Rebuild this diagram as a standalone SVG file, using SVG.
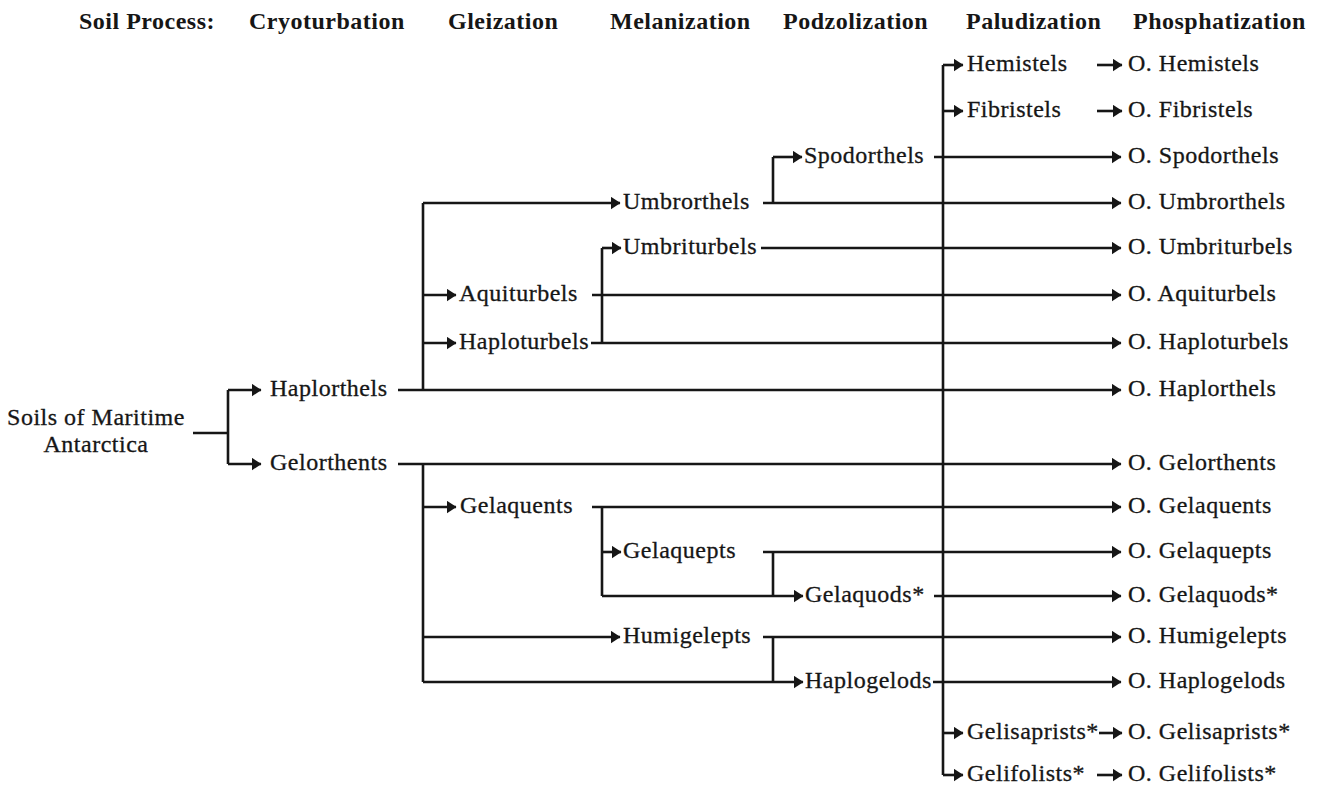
<svg xmlns="http://www.w3.org/2000/svg" width="1321" height="787" viewBox="0 0 1321 787">
  <defs>
    <marker id="arrow" markerUnits="userSpaceOnUse" markerWidth="11" markerHeight="13" refX="9.5" refY="6.5" orient="auto">
      <path d="M0,0 L10,6.5 L0,13 z" fill="#161616"/>
    </marker>
    <style>
      .hdr { font-family: "Liberation Serif", "DejaVu Serif", serif; font-size: 24px; font-weight: bold; letter-spacing: 0.5px; fill: #161616; }
      .lbl { font-family: "Liberation Serif", "DejaVu Serif", serif; font-size: 24px; letter-spacing: 0.5px; fill: #161616; stroke: #161616; stroke-width: 0.3px; }
      .ln { fill: none; stroke: #161616; stroke-width: 2.6; }
      .ar { fill: none; stroke: #161616; stroke-width: 2.6; marker-end: url(#arrow); }
    </style>
  </defs>
  <rect width="1321" height="787" fill="#ffffff"/>

  <!-- process columns -->
  <g id="header">
    <text class="hdr" x="79" y="29">Soil Process:</text>
    <text class="hdr" x="249" y="29">Cryoturbation</text>
    <text class="hdr" x="448" y="29">Gleization</text>
    <text class="hdr" x="610" y="29">Melanization</text>
    <text class="hdr" x="783" y="29">Podzolization</text>
    <text class="hdr" x="966" y="29">Paludization</text>
    <text class="hdr" x="1133" y="29">Phosphatization</text>
  </g>

  <!-- connectors -->
  <g id="connectors">
    <!-- root split -->
    <path class="ln" d="M193,433 H228 M228,390 V464"/>
    <path class="ar" d="M228,390 H261"/>
    <path class="ar" d="M228,464 H261"/>

    <!-- Haplorthels branch -->
    <path class="ar" d="M398,390 H1121"/>
    <path class="ln" d="M423,203 V390"/>
    <path class="ar" d="M423,203 H620"/>
    <path class="ar" d="M423,295 H456"/>
    <path class="ar" d="M423,343 H456"/>

    <path class="ar" d="M592,295 H1121"/>
    <path class="ar" d="M591,343 H1121"/>
    <path class="ln" d="M602,248 V343"/>
    <path class="ar" d="M602,248 H621"/>
    <path class="ar" d="M761,248 H1121"/>

    <path class="ar" d="M763,203 H1121"/>
    <path class="ln" d="M773,157 V203"/>
    <path class="ar" d="M773,157 H802"/>
    <path class="ar" d="M934,157 H1121"/>

    <!-- paludization trunk -->
    <path class="ln" d="M943,65 V775"/>
    <path class="ar" d="M943,65 H963"/>
    <path class="ar" d="M943,111 H963"/>
    <path class="ar" d="M943,733 H963"/>
    <path class="ar" d="M943,775 H963"/>
    <path class="ar" d="M1097,65 H1122"/>
    <path class="ar" d="M1097,111 H1122"/>
    <path class="ar" d="M1099,733 H1122"/>
    <path class="ar" d="M1097,775 H1122"/>

    <!-- Gelorthents branch -->
    <path class="ar" d="M398,464 H1121"/>
    <path class="ln" d="M423,464 V682"/>
    <path class="ar" d="M423,507 H456"/>
    <path class="ar" d="M423,637 H620"/>
    <path class="ar" d="M423,682 H803"/>

    <path class="ar" d="M592,507 H1121"/>
    <path class="ln" d="M602,507 V596"/>
    <path class="ar" d="M602,552 H621"/>
    <path class="ar" d="M602,596 H803"/>

    <path class="ar" d="M763,552 H1121"/>
    <path class="ln" d="M773,552 V596"/>
    <path class="ar" d="M934,596 H1121"/>

    <path class="ar" d="M763,637 H1121"/>
    <path class="ln" d="M773,637 V682"/>
    <path class="ar" d="M933,682 H1121"/>
  </g>

  <!-- soil taxa -->
  <g id="root"><text class="lbl" x="96" y="425" text-anchor="middle">Soils of Maritime</text><text class="lbl" x="96" y="452" text-anchor="middle">Antarctica</text></g>
  <g id="haplorthels"><text class="lbl" x="270" y="396">Haplorthels</text></g>
  <g id="gelorthents"><text class="lbl" x="270" y="470">Gelorthents</text></g>
  <g id="aquiturbels"><text class="lbl" x="459" y="301">Aquiturbels</text></g>
  <g id="haploturbels"><text class="lbl" x="459" y="349">Haploturbels</text></g>
  <g id="gelaquents"><text class="lbl" x="460" y="513">Gelaquents</text></g>
  <g id="umbrorthels"><text class="lbl" x="623" y="209">Umbrorthels</text></g>
  <g id="umbriturbels"><text class="lbl" x="623" y="254">Umbriturbels</text></g>
  <g id="gelaquepts"><text class="lbl" x="623" y="558">Gelaquepts</text></g>
  <g id="humigelepts"><text class="lbl" x="623" y="643">Humigelepts</text></g>
  <g id="spodorthels"><text class="lbl" x="804" y="163">Spodorthels</text></g>
  <g id="gelaquods"><text class="lbl" x="805" y="602">Gelaquods*</text></g>
  <g id="haplogelods"><text class="lbl" x="805" y="688">Haplogelods</text></g>
  <g id="hemistels"><text class="lbl" x="967" y="71">Hemistels</text></g>
  <g id="fibristels"><text class="lbl" x="967" y="117">Fibristels</text></g>
  <g id="gelisaprists"><text class="lbl" x="967" y="739">Gelisaprists*</text></g>
  <g id="gelifolists"><text class="lbl" x="967" y="781">Gelifolists*</text></g>

  <!-- ornithogenic taxa -->
  <g id="o-hemistels"><text class="lbl" x="1128" y="71">O. Hemistels</text></g>
  <g id="o-fibristels"><text class="lbl" x="1128" y="117">O. Fibristels</text></g>
  <g id="o-spodorthels"><text class="lbl" x="1128" y="163">O. Spodorthels</text></g>
  <g id="o-umbrorthels"><text class="lbl" x="1128" y="209">O. Umbrorthels</text></g>
  <g id="o-umbriturbels"><text class="lbl" x="1128" y="254">O. Umbriturbels</text></g>
  <g id="o-aquiturbels"><text class="lbl" x="1128" y="301">O. Aquiturbels</text></g>
  <g id="o-haploturbels"><text class="lbl" x="1128" y="349">O. Haploturbels</text></g>
  <g id="o-haplorthels"><text class="lbl" x="1128" y="396">O. Haplorthels</text></g>
  <g id="o-gelorthents"><text class="lbl" x="1128" y="470">O. Gelorthents</text></g>
  <g id="o-gelaquents"><text class="lbl" x="1128" y="513">O. Gelaquents</text></g>
  <g id="o-gelaquepts"><text class="lbl" x="1128" y="558">O. Gelaquepts</text></g>
  <g id="o-gelaquods"><text class="lbl" x="1128" y="602">O. Gelaquods*</text></g>
  <g id="o-humigelepts"><text class="lbl" x="1128" y="643">O. Humigelepts</text></g>
  <g id="o-haplogelods"><text class="lbl" x="1128" y="688">O. Haplogelods</text></g>
  <g id="o-gelisaprists"><text class="lbl" x="1128" y="739">O. Gelisaprists*</text></g>
  <g id="o-gelifolists"><text class="lbl" x="1128" y="781">O. Gelifolists*</text></g>
</svg>
